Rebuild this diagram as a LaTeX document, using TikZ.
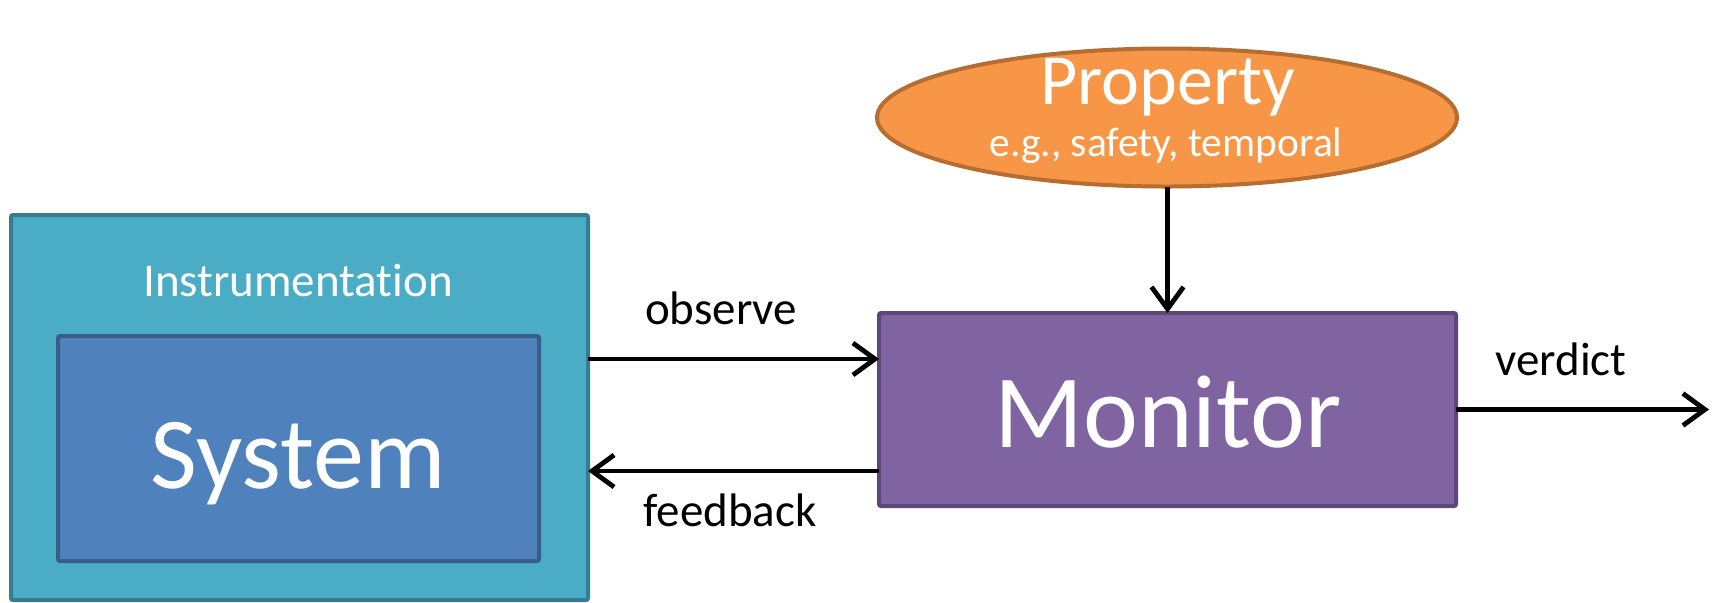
\documentclass[tikz,border=0pt]{standalone}
\usepackage{fontspec}
\setmainfont{Carlito}[RawFeature={-liga;-clig;-calt;-dlig}]
\usetikzlibrary{arrows.meta,shapes.geometric}
\definecolor{instfill}{HTML}{4BACC6}
\definecolor{instline}{HTML}{357D91}
\definecolor{sysfill}{HTML}{4F81BD}
\definecolor{sysline}{HTML}{385D8A}
\definecolor{monfill}{HTML}{8064A2}
\definecolor{monline}{HTML}{5C4776}
\definecolor{propfill}{HTML}{F79646}
\definecolor{propline}{HTML}{B66D31}
\newcommand{\fsz}[1]{\fontsize{#1}{1.2\dimexpr#1pt\relax}\selectfont}
\tikzset{
  block/.style={rectangle, draw, line width=2pt, rounded corners=1pt, inner sep=0pt, outer sep=0pt},
  txt/.style={anchor=base, inner sep=0pt, outer sep=0pt},
  wtxt/.style={txt, text=white},
  arr/.style={line width=2.4pt, -{Straight Barb[length=11pt,width=16pt,line width=2.4pt]}},
}
\begin{document}
\begin{tikzpicture}[x=0.5pt,y=-0.5pt]
  \useasboundingbox (0,0) rectangle (1718,602);
  \begin{scope}
    \clip (0,0) rectangle (1718,602);
    % outer instrumentation layer and the system inside it
    \node[block, fill=instfill, draw=instline, minimum width=288.5pt, minimum height=192.5pt] (inst) at (299.5,407.5) {};
    \node[block, fill=sysfill, draw=sysline, minimum width=240.5pt, minimum height=112.5pt] (sys) at (298.5,448.5) {};
  \end{scope}
  % separate t and i so the font does not join them
  \node[wtxt, font=\fsz{23.5}] (instlbl) at (298,296) {Instrumentat\kern0pt ion};
  \node[wtxt, font=\fsz{51}] (syslbl) at (298,488) {System};

  % monitor and the property it checks
  \node[block, fill=monfill, draw=monline, minimum width=288.5pt, minimum height=96.5pt] (mon) at (1167.5,409.5) {};
  \node[wtxt, font=\fsz{52}] (monlbl) at (1168,447) {Monitor};
  \node[ellipse, draw=propline, fill=propfill, line width=2pt, inner sep=0pt, outer sep=0pt,
        minimum width=290pt, minimum height=69pt] (prop) at (1167,117.5) {};
  \node[wtxt, font=\fsz{36}] (proplbl) at (1168,104) {Property};
  \node[wtxt, font=\fsz{20.75}] (propsub) at (1166,156) {e.g., safety, temporal};

  % connectors
  \coordinate (obsy) at (0,359);
  \coordinate (fby) at (0,471);
  \coordinate (out) at (1709,409.5);
  \draw[arr] (obsy -| inst.east) -- (obsy -| mon.west);
  \draw[arr] (fby -| mon.west) -- (fby -| inst.east);
  \draw[arr] (mon.east) -- (out);
  \draw[arr] (prop.south -| mon.north) -- (mon.north);

  \node[txt, font=\fsz{23.5}] (obslbl) at (721,324) {observe};
  \node[txt, font=\fsz{23.5}] (fblbl) at (730,526) {feedback};
  \node[txt, font=\fsz{23.5}] (verlbl) at (1561,375) {verdict};
\end{tikzpicture}
\end{document}
